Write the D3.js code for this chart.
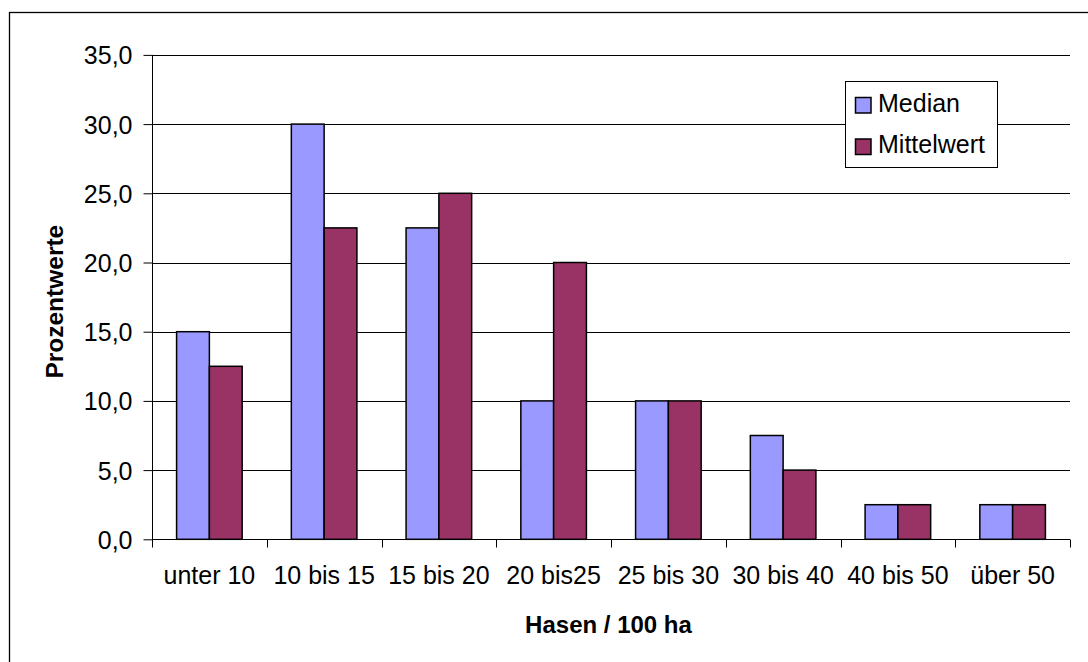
<!DOCTYPE html>
<html>
<head>
<meta charset="utf-8">
<script src="https://cdn.jsdelivr.net/npm/d3@7"></script>
<style>
  html, body { margin: 0; padding: 0; background: #fff; }
  svg { display: block; font-family: "Liberation Sans", Arial, sans-serif; }
</style>
</head>
<body>
<svg id="chart" width="1088" height="662"></svg>
<script>
const categories = ["unter 10", "10 bis 15", "15 bis 20", "20 bis25", "25 bis 30", "30 bis 40", "40 bis 50", "über 50"];
const seriesNames = ["Median", "Mittelwert"];
const medianValues = [15, 30, 22.5, 10, 10, 7.5, 2.5, 2.5];
const mittelwertValues = [12.5, 22.5, 25, 20, 10, 5, 2.5, 2.5];
const yTicks = [0, 5, 10, 15, 20, 25, 30, 35];
const colors = ["#9999FF", "#993366"];
const xTitle = "Hasen / 100 ha";
const yTitle = "Prozentwerte";

(function () {
const svg = d3.select("#chart");
svg.append("rect").attr("width", 1088).attr("height", 662).attr("fill", "#fff");
// outer chart frame (extends beyond viewport on right/bottom)
svg.append("rect").attr("x", 9.5).attr("y", 12.5).attr("width", 1200).attr("height", 800)
  .attr("fill", "none").attr("stroke", "#000").attr("stroke-width", 1.3);

const pL = 152, pR = 1070, pT = 54.9, pB = 539.3;
const y = d3.scaleLinear().domain([0, 35]).range([pB, pT]);
const x0 = d3.scaleBand().domain(categories).range([pL, pR]).padding(0);
const x1 = d3.scaleBand().domain(seriesNames).range([0, x0.bandwidth()]).paddingInner(0).paddingOuter(0.75);

const locale = d3.formatLocale({decimal: ",", thousands: ".", grouping: [3], currency: ["", "€"]});
const fmt = locale.format(".1f");

// gridlines
svg.append("g").selectAll("line").data(yTicks).join("line")
  .attr("x1", pL).attr("x2", pR)
  .attr("y1", d => Math.round(y(d)) + 0.5).attr("y2", d => Math.round(y(d)) + 0.5)
  .attr("stroke", "#000").attr("stroke-width", 1);

// bars
const data = categories.map((c, i) => ({cat: c, vals: [medianValues[i], mittelwertValues[i]]}));
const groups = svg.append("g").selectAll("g").data(data).join("g")
  .attr("transform", d => `translate(${x0(d.cat)},0)`);
groups.selectAll("rect").data(d => d.vals.map((v, j) => ({name: seriesNames[j], v, j}))).join("rect")
  .attr("x", d => x1(d.name))
  .attr("width", x1.bandwidth())
  .attr("y", d => y(d.v))
  .attr("height", d => y(0) - y(d.v))
  .attr("fill", d => colors[d.j])
  .attr("stroke", "#000").attr("stroke-width", 1.5);

// y axis
const yAxis = d3.axisLeft(y).tickValues(yTicks).tickFormat(fmt).tickSize(9).tickPadding(11);
const gy = svg.append("g").attr("transform", `translate(${pL + 0.5},0)`).call(yAxis);
gy.select(".domain").attr("stroke", "#000").attr("d", `M0,${pT}V${pB}`);
gy.selectAll(".tick line").attr("stroke", "#000");
gy.selectAll(".tick text").attr("font-size", 25).attr("fill", "#000")
  .attr("font-family", "Liberation Sans, Arial, sans-serif").attr("dy", "0.36em");

// x axis
const xAxis = d3.axisBottom(x0).tickSize(0).tickPadding(27);
const gx = svg.append("g").attr("transform", `translate(0,${Math.round(pB) + 0.5})`).call(xAxis);
gx.select(".domain").attr("stroke", "#000").attr("d", `M${pL},0H${pR}`);
gx.selectAll(".tick text").attr("font-size", 25).attr("fill", "#000")
  .attr("font-family", "Liberation Sans, Arial, sans-serif").attr("dy", "0.71em");
// boundary tick marks
const bounds = categories.map(c => x0(c)).concat([x0.range()[1]]);
gx.append("g").selectAll("line").data(bounds).join("line")
  .attr("x1", d => Math.round(d) + 0.5).attr("x2", d => Math.round(d) + 0.5)
  .attr("y1", 0).attr("y2", 8).attr("stroke", "#000");

// axis titles
svg.append("text").attr("x", 608.5).attr("y", 632.5).attr("text-anchor", "middle")
  .attr("font-size", 24).attr("font-weight", "bold").text(xTitle);
svg.append("text").attr("transform", "translate(63,301.7) rotate(-90)").attr("text-anchor", "middle")
  .attr("font-size", 24.5).attr("font-weight", "bold").text(yTitle);

// legend
const lg = svg.append("g");
lg.append("rect").attr("x", 845.5).attr("y", 81.5).attr("width", 152).attr("height", 86)
  .attr("fill", "#fff").attr("stroke", "#000").attr("stroke-width", 1);
const items = lg.selectAll("g").data(seriesNames).join("g")
  .attr("transform", (d, i) => `translate(0,${i * 41.5})`);
items.append("rect").attr("x", 855.5).attr("y", 97.5).attr("width", 15.5).attr("height", 15.5)
  .attr("fill", (d, i) => colors[i]).attr("stroke", "#000").attr("stroke-width", 1.5);
items.append("text").attr("x", 878).attr("y", 111.7).attr("font-size", 25).text(d => d);
})();
</script>
</body>
</html>
